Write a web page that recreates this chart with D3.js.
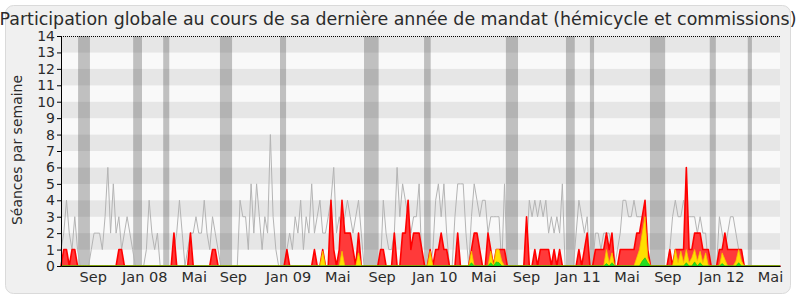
<!DOCTYPE html>
<html>
<head>
<meta charset="utf-8">
<script src="https://d3js.org/d3.v7.min.js"></script>
<style>
  body { margin: 0; background: white; }
  svg text { font-family: 'DejaVu Sans', sans-serif; fill: #2b2b2b; }
</style>
</head>
<body>
<svg id="chart" width="800" height="300"></svg>
<script>
// one value per week since the start of the mandate (262 weeks)
var seances = [
  1,2,4,2,1,3,1,0,0,0,  0,1,2,2,2,1,3,6,2,5,  2,3,1,2,3,2,1,0,0,0,
  0,1,4,2,1,2,0,0,0,0,  0,1,2,4,2,0,1,2,2,3,  2,2,4,2,1,3,2,1,0,0,
  0,0,0,0,0,4,3,3,1,5,  2,5,3,1,3,2,8,3,1,0,  0,0,1,2,1,3,2,4,1,3,
  2,5,2,3,4,2,2,3,4,6,  2,3,2,3,4,3,2,3,4,2,  0,0,0,0,0,0,0,4,2,1,
  1,2,6,3,5,4,3,2,3,3,  5,0,0,0,0,1,4,5,3,5,  2,0,0,3,5,5,5,2,0,3,
  5,4,3,4,4,2,3,3,3,3,  0,5,0,0,0,0,0,0,0,1,  4,3,4,3,4,3,4,2,3,2,
  3,2,5,0,0,0,0,2,4,3,  2,3,0,0,2,2,1,2,2,2,  1,0,1,2,4,4,3,3,4,3,
  3,3,3,0,0,0,0,0,0,0,  0,1,3,4,3,3,4,3,3,3,  3,2,3,2,2,0,0,0,0,3,
  2,1,2,3,3,2,1,1,0,0,  0,0,0,0,0,0,0,0,0,0,  0,0
];
var presences = [
  0,1,1,0,1,1,0,0,0,0,  0,0,0,0,0,0,0,0,0,0,  0,1,1,0,0,0,0,0,0,0,
  0,0,0,0,0,0,0,0,0,0,  0,2,0,0,0,0,0,2,0,0,  0,0,0,0,0,1,1,0,0,0,
  0,0,0,0,0,0,0,0,0,0,  0,0,0,0,0,0,0,0,0,0,  0,0,1,0,0,0,0,0,0,0,
  0,0,1,0,0,1,0,0,4,1,  0,1,4,2,2,2,1,0,2,0,  0,0,0,0,0,0,1,1,0,0,
  0,2,0,0,2,2,4,1,2,2,  2,1,0,0,1,0,1,1,2,1,  1,0,0,0,2,0,0,0,0,1,
  2,2,1,0,0,2,1,0,1,1,  1,1,0,0,0,0,0,0,0,3,  0,0,1,0,1,1,1,1,0,1,
  0,1,0,0,0,0,0,0,1,0,  1,2,0,0,1,1,1,1,2,1,  2,0,0,1,1,1,1,1,1,2,
  2,3,4,1,0,0,0,0,0,0,  0,1,0,1,1,1,1,6,1,1,  2,2,2,1,1,1,0,0,0,1,
  1,2,1,1,1,1,1,1,0,0,  0,0,0,0,0,0,0,0,0,0,  0,0
];
var hemicycle = [
  0,0,0,0,0,0,0,0,0,0,  0,0,0,0,0,0,0,0,0,0,  0,0,0,0,0,0,0,0,0,0,
  0,0,0,0,0,0,0,0,0,0,  0,0,0,0,0,0,0,0,0,0,  0,0,0,0,0,0,0,0,0,0,
  0,0,0,0,0,0,0,0,0,0,  0,0,0,0,0,0,0,0,0,0,  0,0,0,0,0,0,0,0,0,0,
  0,0,0,0,0,0.9,0,0,0,0,  0,0,0.9,0,0,0,0,0,0.8,0,  0,0,0,0,0,0,0,0,0,0,
  0,0,0,0,0,0,0,0,0,0,  0,0,0,0,0.9,0,0,0,0,0,  0,0,0,0,0,0,0,0,0,0.9,
  0,0,0,0,0,0,0.9,0,1,1,  0.3,0,0,0,0,0,0,0,0,0,  0,0,0,0,0,0,0,0,0,0,
  0,0,0,0,0,0,0,0,0,0,  0,0,0,0,0,0,0,0,1,0.2,  0.8,0,0,0,0,0,0,0,0,0.5,
  1,2,3,0.5,0,0,0,0,0,0,  0,0,0,1,0.2,0.9,0.2,1,0.2,0.5,  1,0.3,0.9,0.2,0.8,0,0,0,0,0,
  0.8,0.4,0,0,0,0.3,1,0.3,0,0,  0,0,0,0,0,0,0,0,0,0,  0,0
];
var interventions = [
  0,0,0,0,0,0,0,0,0,0,  0,0,0,0,0,0,0,0,0,0,  0,0,0,0,0,0,0,0,0,0,
  0,0,0,0,0,0,0,0,0,0,  0,0,0,0,0,0,0,0,0,0,  0,0,0,0,0,0,0,0,0,0,
  0,0,0,0,0,0,0,0,0,0,  0,0,0,0,0,0,0,0,0,0,  0,0,0,0,0,0,0,0,0,0,
  0,0,0,0,0,0,0,0,0,0,  0,0,0,0,0,0,0,0,0,0,  0,0,0,0,0,0,0,0,0,0,
  0,0,0,0,0,0,0,0,0,0,  0,0,0,0,0,0,0,0,0,0,  0,0,0,0,0,0,0,0,0,0.2,
  0,0,0,0,0,0,0.2,0,0.25,0.2,  0,0,0,0,0,0,0,0,0,0,  0,0,0,0,0,0,0,0,0,0,
  0,0,0,0,0,0,0,0,0,0,  0,0,0,0,0,0,0,0,0.15,0,  0.2,0,0,0,0,0,0,0,0,0,
  0,0.3,0.5,0.2,0,0,0,0,0,0,  0,0,0,0,0,0,0,0.2,0,0,  0.25,0,0.2,0,0,0,0,0,0,0,
  0.15,0,0,0,0,0,0.2,0,0,0,  0,0,0,0,0,0,0,0,0,0,  0,0
];

// parliamentary holidays, in weeks
var vacStart = [6.2, 26.2, 37.1, 57.7, 79.5, 110, 131.8, 161.5, 183.3, 192, 213.8, 235.5, 249.3];
var vacEnd   = [10.5, 29.4, 39.3, 62.1, 81.7, 115.3, 134.2, 165.9, 186.5, 193.5, 219.3, 237.7, 250.8];

var tickWeeks  = [11.5, 30.2, 48.2, 62.4, 82.4, 100.3, 116.4, 135.5, 153.3, 168.8, 187.5, 205.3, 220.1, 239.7, 257.4];
var tickLabels = ['Sep', 'Jan 08', 'Mai', 'Sep', 'Jan 09', 'Mai', 'Sep', 'Jan 10', 'Mai', 'Sep', 'Jan 11', 'Mai', 'Sep', 'Jan 12', 'Mai'];

var plotLeft = 61, plotRight = 780, plotTop = 36, plotBottom = 266;
var svg = d3.select('#chart');

svg.append('rect')
  .attr('x', 5.5).attr('y', 5.5)
  .attr('width', 785).attr('height', 288)
  .attr('rx', 8)
  .attr('fill', '#f0f0f0')
  .attr('stroke', '#dadada');

var x = d3.scaleLinear().domain([0, seances.length - 1]).range([plotLeft, plotRight]);
var y = d3.scaleLinear().domain([0, 14]).range([plotBottom, plotTop]);

// horizontal bands
svg.append('g').selectAll('rect')
  .data(d3.range(14))
  .join('rect')
  .attr('x', plotLeft)
  .attr('y', function (k) { return y(k + 1); })
  .attr('width', plotRight - plotLeft)
  .attr('height', function (k) { return y(k) - y(k + 1); })
  .attr('fill', function (k) { return k % 2 ? '#e6e6e6' : '#f9f9f9'; });

// holidays
svg.append('g').selectAll('rect')
  .data(vacStart)
  .join('rect')
  .attr('x', function (d) { return x(d); })
  .attr('y', plotTop)
  .attr('width', function (d, i) { return x(vacEnd[i]) - x(d); })
  .attr('height', plotBottom - plotTop)
  .attr('fill', '#303030')
  .attr('opacity', 0.28);

// top dotted line
svg.append('line')
  .attr('x1', plotLeft).attr('x2', plotRight)
  .attr('y1', y(14) + 0.5).attr('y2', y(14) + 0.5)
  .attr('stroke', '#000')
  .attr('stroke-dasharray', '1,1');

var line = d3.line()
  .x(function (d, i) { return x(i); })
  .y(function (d) { return y(d); });

var area = d3.area()
  .x(function (d, i) { return x(i); })
  .y0(y(0))
  .y1(function (d) { return y(d); });

svg.append('path')
  .datum(seances)
  .attr('d', line)
  .attr('fill', 'none')
  .attr('stroke', '#b4b4b4')
  .attr('stroke-width', 1);

svg.append('path')
  .datum(presences)
  .attr('d', area)
  .attr('fill', '#ff3a3a')
  .attr('stroke', '#ff0000')
  .attr('stroke-width', 1.6)
  .attr('stroke-linejoin', 'round');

svg.append('path')
  .datum(hemicycle)
  .attr('d', area)
  .attr('fill', '#ffdf00')
  .attr('stroke', '#f5c400')
  .attr('stroke-width', 0.8);

svg.append('path')
  .datum(interventions)
  .attr('d', area)
  .attr('fill', '#22dd22')
  .attr('stroke', '#11bb11')
  .attr('stroke-width', 0.6);

// axes
var yAxis = d3.axisLeft(y).tickValues(d3.range(0, 15)).tickSize(4).tickSizeOuter(0).tickPadding(2);
var gy = svg.append('g')
  .attr('transform', 'translate(' + plotLeft + ',0)')
  .call(yAxis);
gy.selectAll('text').style('font-size', '14px');

var xAxis = d3.axisBottom(x).tickValues(tickWeeks)
  .tickFormat(function (d, i) { return tickLabels[i]; })
  .tickSize(0).tickPadding(6);
var gx = svg.append('g')
  .attr('transform', 'translate(0,' + plotBottom + ')')
  .call(xAxis);
gx.selectAll('text').style('font-size', '14.5px');

svg.selectAll('.domain').attr('stroke', '#000');
svg.selectAll('.tick line').attr('stroke', '#000');

svg.append('text')
  .attr('x', 398).attr('y', 25)
  .attr('text-anchor', 'middle')
  .style('font-size', '17.4px')
  .text('Participation globale au cours de sa dernière année de mandat (hémicycle et commissions)');

svg.append('text')
  .attr('transform', 'translate(22,150) rotate(-90)')
  .attr('text-anchor', 'middle')
  .style('font-size', '14px')
  .text('Séances par semaine');
</script>
</body>
</html>
